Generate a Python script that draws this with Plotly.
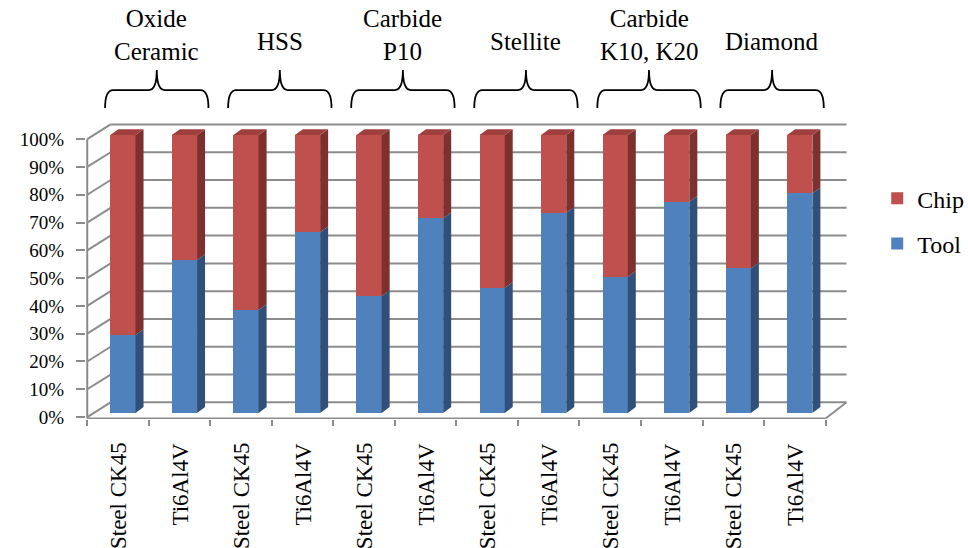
import plotly.graph_objects as go

# --- data -------------------------------------------------------------
tool_groups = ["Oxide<br>Ceramic", "HSS", "Carbide<br>P10", "Stellite",
               "Carbide<br>K10, K20", "Diamond"]
materials = ["Steel CK45", "Ti6Al4V", "Steel CK45", "Ti6Al4V",
             "Steel CK45", "Ti6Al4V", "Steel CK45", "Ti6Al4V",
             "Steel CK45", "Ti6Al4V", "Steel CK45", "Ti6Al4V"]
tool_share = [28, 55, 37, 65, 42, 70, 45, 72, 49, 76, 52, 79]
chip_share = [72, 45, 63, 35, 58, 30, 55, 28, 51, 24, 48, 21]
y_ticks = [0, 10, 20, 30, 40, 50, 60, 70, 80, 90, 100]

# --- styling / pseudo-3D geometry (in axis units) -----------------------
FONT = "Liberation Serif"
GRID = "#8C8C8C"
BLUE, BLUE_SIDE = "#4F81BD", "#30507A"
RED, RED_SIDE, RED_TOP = "#C0504D", "#7D302E", "#A0403E"

BAR_W = 0.41          # width of a bar's front face
DEPTH_X = 0.13        # horizontal depth of bar side faces
DEPTH_Y = 2.1         # vertical depth of bar side faces
FRONT_Y = -1.5        # front plane offset of the value levels
BACK_Y = 3.8          # back wall offset of the value levels
FLOOR_Y = -2.0
LEFT_FRONT_X = -0.58
LEFT_BACK_X = -0.2
RIGHT_FRONT_X = LEFT_FRONT_X + len(materials)
RIGHT_BACK_X = 11.76

x = list(range(len(materials)))

fig = go.Figure()
fig.add_bar(x=x, y=tool_share, name="Tool", width=BAR_W, legendgroup="tool",
            legendrank=2, marker=dict(color=BLUE, line=dict(width=0)))
fig.add_bar(x=x, y=chip_share, name="Chip", width=BAR_W, legendgroup="chip",
            legendrank=1, marker=dict(color=RED, line=dict(width=0)))


def face(xs, ys):
    return xs + [xs[0], None], ys + [ys[0], None]


blue_x, blue_y, red_x, red_y, top_x, top_y = [], [], [], [], [], []
for xi, t, c in zip(x, tool_share, chip_share):
    xr = xi + BAR_W / 2
    xl = xi - BAR_W / 2
    fx, fy = face([xr, xr + DEPTH_X, xr + DEPTH_X, xr],
                  [0, DEPTH_Y, t + DEPTH_Y, t])
    blue_x += fx
    blue_y += fy
    fx, fy = face([xr, xr + DEPTH_X, xr + DEPTH_X, xr],
                  [t, t + DEPTH_Y, t + c + DEPTH_Y, t + c])
    red_x += fx
    red_y += fy
    fx, fy = face([xl, xl + DEPTH_X, xr + DEPTH_X, xr],
                  [t + c, t + c + DEPTH_Y, t + c + DEPTH_Y, t + c])
    top_x += fx
    top_y += fy

for fx, fy, col in [(blue_x, blue_y, BLUE_SIDE), (red_x, red_y, RED_SIDE),
                    (top_x, top_y, RED_TOP)]:
    fig.add_scatter(x=fx, y=fy, mode="lines", fill="toself", fillcolor=col,
                    line=dict(width=0, color=col), showlegend=False,
                    hoverinfo="skip")

# --- walls, floor and grid ----------------------------------------------
shapes = []
line = dict(color=GRID, width=2)
for v in y_ticks:
    shapes.append(dict(type="line", xref="x", yref="y", layer="below",
                       x0=LEFT_BACK_X, x1=RIGHT_BACK_X,
                       y0=v + BACK_Y, y1=v + BACK_Y, line=line))
    shapes.append(dict(type="line", xref="x", yref="y", layer="below",
                       x0=LEFT_FRONT_X, x1=LEFT_BACK_X,
                       y0=v + FRONT_Y, y1=v + BACK_Y, line=line))
shapes.append(dict(type="line", xref="x", yref="y", layer="below",
                   x0=LEFT_FRONT_X, x1=LEFT_FRONT_X,
                   y0=FLOOR_Y, y1=y_ticks[-1] + FRONT_Y, line=line))
shapes.append(dict(type="line", xref="x", yref="y", layer="below",
                   x0=LEFT_FRONT_X, x1=RIGHT_FRONT_X,
                   y0=FLOOR_Y, y1=FLOOR_Y, line=line))
shapes.append(dict(type="line", xref="x", yref="y", layer="below",
                   x0=RIGHT_FRONT_X, x1=RIGHT_BACK_X,
                   y0=FLOOR_Y, y1=BACK_Y, line=line))

# --- group braces and labels above the plot -------------------------------
annotations = []
half = 0.84
r = 0.13
y_end, y_arm, y_tip = 1.040, 1.100, 1.167
for k, label in enumerate(tool_groups):
    cx = (x[2 * k] + x[2 * k + 1]) / 2 + 0.05
    x0, x1 = cx - half, cx + half
    path = (f"M{x0},{y_end} Q{x0},{y_arm} {x0 + r},{y_arm} "
            f"L{cx - r},{y_arm} Q{cx},{y_arm} {cx},{y_tip} "
            f"Q{cx},{y_arm} {cx + r},{y_arm} "
            f"L{x1 - r},{y_arm} Q{x1},{y_arm} {x1},{y_end}")
    shapes.append(dict(type="path", xref="x", yref="paper", path=path,
                       line=dict(color="black", width=1.8)))
    two_lines = "<br>" in label
    annotations.append(dict(x=cx, y=1.284 if two_lines else 1.264,
                            xref="x", yref="paper", text=label,
                            showarrow=False, xanchor="center",
                            yanchor="middle",
                            font=dict(family=FONT, size=25, color="black")))

for i, m in enumerate(materials):
    annotations.append(dict(x=LEFT_FRONT_X + 0.5 + i, y=-0.072, xref="x",
                            yref="paper", text=m, textangle=-90,
                            showarrow=False, xanchor="center", yanchor="top",
                            font=dict(family=FONT, size=23, color="black")))

fig.update_layout(
    width=968, height=548,
    margin=dict(l=86, r=119, t=120, b=129, autoexpand=False),
    plot_bgcolor="white", paper_bgcolor="white",
    barmode="stack", bargap=0,
    showlegend=True,
    font=dict(family=FONT, color="black"),
    legend=dict(x=1.037, y=0.812, xanchor="left", yanchor="top",
                traceorder="grouped", tracegroupgap=11,
                bgcolor="rgba(0,0,0,0)",
                font=dict(family=FONT, size=24, color="black")),
    xaxis=dict(range=[-0.6, 11.8], tickvals=[LEFT_FRONT_X + k for k in range(len(materials) + 1)],
               ticktext=[""] * (len(materials) + 1), ticks="outside",
               ticklen=6, tickwidth=2, tickcolor=GRID, showgrid=False,
               zeroline=False, showline=False),
    yaxis=dict(range=[-2.2, 105.4], tickvals=[t + FRONT_Y for t in y_ticks],
               ticktext=[f"{t}%" for t in y_ticks], ticks="outside",
               ticklen=9, tickwidth=2, tickcolor=GRID, showgrid=False,
               zeroline=False, showline=False, ticklabelstandoff=8,
               tickfont=dict(family=FONT, size=19, color="black")),
    shapes=shapes,
    annotations=annotations,
)

fig.write_html("out.html")
